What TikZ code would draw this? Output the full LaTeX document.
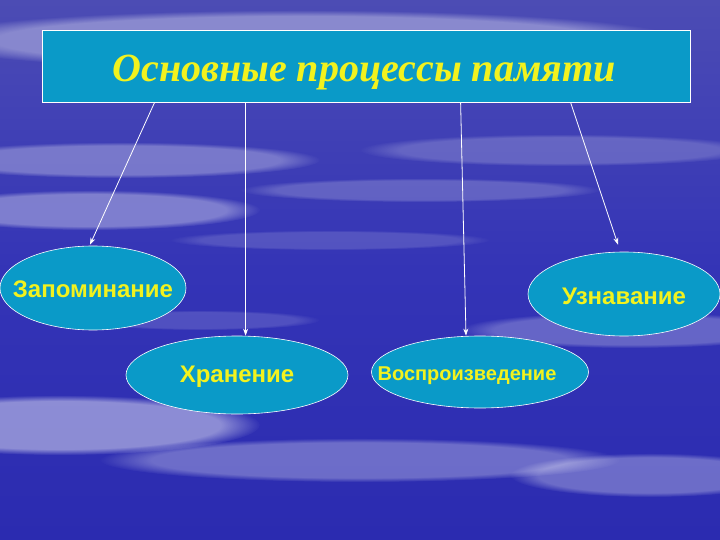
\documentclass[tikz,border=0pt]{standalone}
\usepackage{fontspec}
\setmainfont{Liberation Serif}
\setsansfont{Liberation Sans}
\usetikzlibrary{shapes.geometric,calc,arrows.meta,fadings}
\definecolor{skyTop}{HTML}{4C4CB4}
\definecolor{skyMid}{HTML}{3434B6}
\definecolor{skyLow}{HTML}{2B2BB0}
\definecolor{boxFill}{HTML}{0A9AC8}
\definecolor{textYellow}{HTML}{F2F21E}
\begin{document}
\begin{tikzpicture}
[x=1pt,y=-1pt,
  boxDecorate/.style={draw=white,fill=boxFill,line width=0.8pt,inner sep=0pt},%
  ovalDecorate/.style={shape=ellipse,draw=white,fill=boxFill,line width=0.6pt,inner sep=0pt},%
  labelDecorate/.style={font=\sffamily\bfseries\fontsize{24}{28}\selectfont,text=textYellow},%
  cloudDecorate/.style={white,path fading=circle with fuzzy edge 20 percent},%
  arrowDecorate/.style={-{Stealth[length=7pt,width=5pt]},white,line width=0.8pt}]
%% background sky
\useasboundingbox (0,0) rectangle (720,540);
\shade[top color=skyTop,bottom color=skyMid] (0,0) rectangle (720,270);
\shade[top color=skyMid,bottom color=skyLow] (0,270) rectangle (720,540);
\foreach \cx/\cy/\rx/\ry/\op in {
  300/40/380/30/0.35, 120/160/200/18/0.3, 560/150/200/16/0.2,
  90/210/170/20/0.35, 420/190/180/12/0.2, 630/330/170/18/0.25,
  60/425/200/30/0.45, 360/460/260/22/0.3, 650/475/140/22/0.3,
  330/240/160/10/0.15, 200/320/120/10/0.15}
{
  \fill[cloudDecorate,opacity=\op] (\cx,\cy) ellipse ({\rx} and {\ry});
}
%% title and ovals
\node (title) at (366,66) [boxDecorate,minimum width=648pt,minimum height=72pt] {};
\node (titletext) at (364,73) [font=\fontsize{40}{44}\selectfont\bfseries\itshape,text=textYellow] {Основные процессы памяти};
\foreach \nodename/\x/\y/\w/\h in {
  zap/93/288/186/84, khr/237/375/222/78,
  vosp/480/372/217/72, uzn/624/294/192/84}
{
  \node (\nodename) at (\x,\y) [ovalDecorate,minimum width=\w pt,minimum height=\h pt] {};
}
\node (zaptext) at (93,289) [labelDecorate] {Запоминание};
\node (khrtext) at (237,377) [labelDecorate] {Хранение};
\node (vosptext) at (467,376) [labelDecorate,font=\sffamily\bfseries\fontsize{20}{24}\selectfont] {Воспроизведение};
\node (uzntext) at (624,296) [labelDecorate] {Узнавание};
%% connectors
\coordinate (t1) at ($(title.south west)+(113,0)$);
\coordinate (t2) at ($(title.south west)+(204,0)$);
\coordinate (t3) at ($(title.south west)+(419,0)$);
\coordinate (t4) at ($(title.south west)+(529,0)$);
\draw[arrowDecorate] (t1) -- ($(zap.north)+(-3,-1)$);
\draw[arrowDecorate] (t2) -- (t2 |- khr.north);
\draw[arrowDecorate] (t3) -- ($(vosp.north)+(-14,0)$);
\draw[arrowDecorate] (t4) -- ($(uzn.north)+(-6,-7)$);
\end{tikzpicture}
\end{document}
